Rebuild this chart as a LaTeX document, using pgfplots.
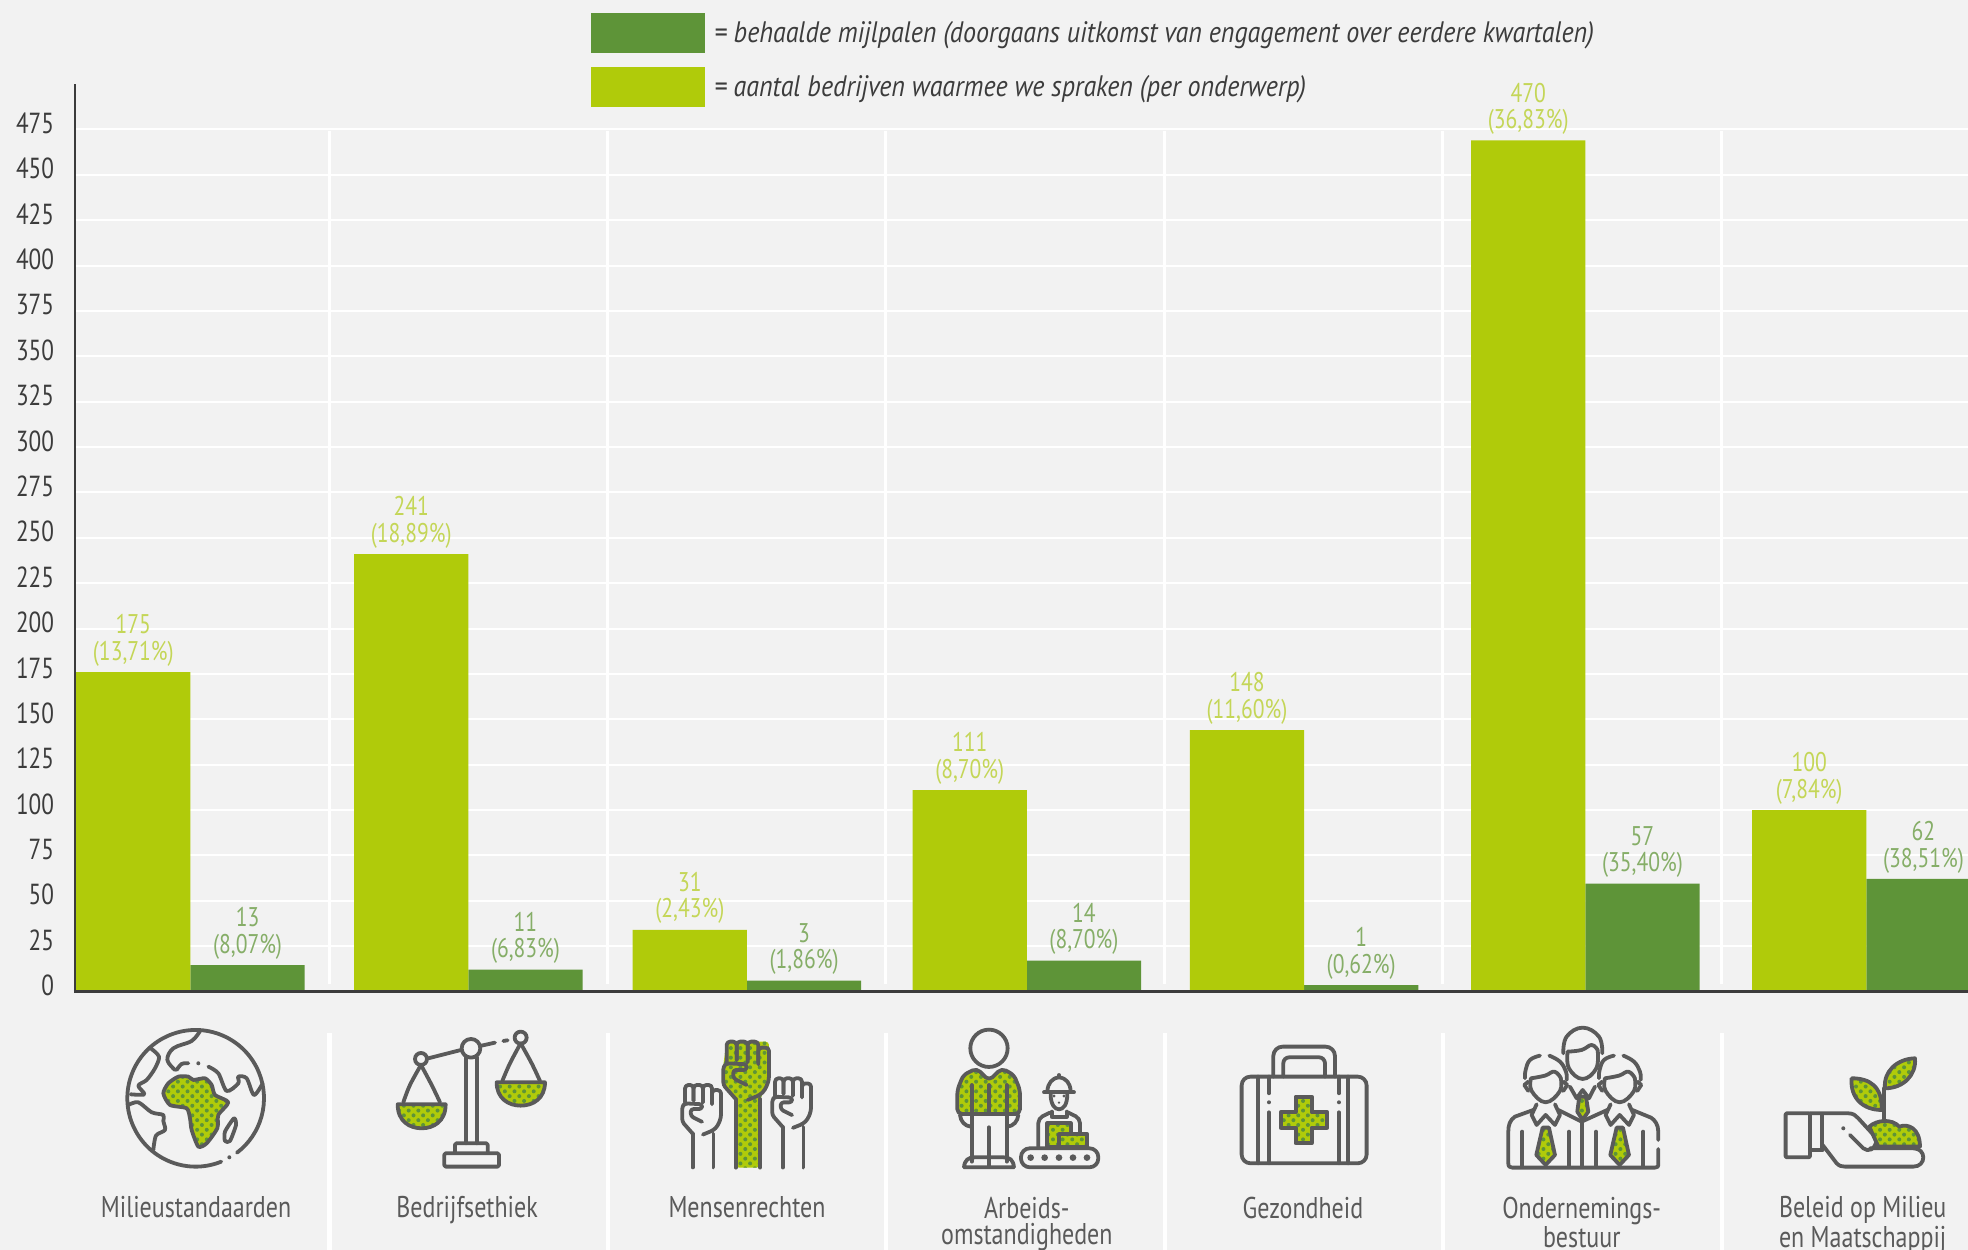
\documentclass[border=0pt]{standalone}
\usepackage{fontspec}
\setmainfont[FakeStretch=0.8]{PT Sans}
\newfontface\legfont[FakeStretch=0.88]{PT Sans Italic}
\usepackage{pgfplots}
\pgfplotsset{compat=1.18}
\usetikzlibrary{patterns.meta}
\definecolor{bg}{HTML}{F2F2F2}
\definecolor{lime}{HTML}{B0CB0A}
\definecolor{dk}{HTML}{5E9438}
\definecolor{limetxt}{HTML}{C4D657}
\definecolor{dktxt}{HTML}{86AE68}
\definecolor{axisc}{HTML}{3C3C3C}
\definecolor{icg}{HTML}{5A5A5A}
\tikzset{
  ic/.style={line width=1.9bp,draw=icg,line cap=round,line join=round},
  dotf/.style={preaction={fill=lime},preaction={pattern={Dots[angle=45,distance=3.4bp,radius=1bp]},pattern color=dk}},
  icon/.style={shift={(#1)},x=0.5bp/3,y=-0.5bp/3}
}
\newcommand{\fist}[1]{%
  \draw[ic,rounded corners=1.7bp] (185,112)--(185,50)--(215,50)--(215,105);
  \draw[ic,rounded corners=1.7bp] (215,105)--(215,50)--(248,50)--(248,105);
  \draw[ic,rounded corners=1.7bp] (248,112)--(248,50)--(280,50)--(280,118);
  \draw[ic,rounded corners=1.7bp] (280,112)--(280,68)--(312,68)--(312,165)--(300,195)--(285,210)--(248,225);
  \draw[ic,rounded corners=1.4bp] (212,222)--(175,180)--(175,125)--(185,115)--(245,118)--(245,135)--(205,135)--(205,160)--(245,180);
  \draw[ic] (212,222)--(212,#1) (285,222)--(285,#1);
}
\newcommand{\person}{%
  \draw[ic] plot[smooth,tension=.7] coordinates {(135,122)(105,135)(92,165)(90,190)};
  \draw[ic] plot[smooth,tension=.7] coordinates {(163,122)(195,140)(213,170)(215,195)};
  \draw[ic] plot[smooth,tension=.7] coordinates {(108,190)(150,182)(178,170)(197,188)};
  \draw[ic] plot[smooth,tension=.7] coordinates {(108,190)(110,228)(152,262)(195,228)(197,188)};
  \draw[ic] (100,200)--(88,210)--(100,228) (205,200)--(217,210)--(205,228);
  \draw[ic] (125,268)--(110,300)--(125,330)--(152,300)--(180,330)--(195,300)--(180,268);
  \path[ic,dotf] (143,338)--(162,338)--(180,420)--(152,450)--(124,420)--cycle;
}
\begin{document}
\begin{tikzpicture}
\useasboundingbox (0,0) rectangle (984bp,625bp);
\fill[bg] (0,0) rectangle (984bp,625bp);
\begin{scope}[shift={(0,625bp)},x=0.5bp,y=-0.5bp]
\foreach \xx in {329.5,608,886,1165,1443,1722}{
  \draw[white,line width=1.5bp] (\xx,131)--(\xx,984);
  \draw[white,line width=2.4bp] (\xx,1033)--(\xx,1250);
}
\end{scope}
\begin{axis}[
  at={(37.5bp,129.25bp)},anchor=south west,
  scale only axis,width=946.5bp,height=453.7bp,
  xmin=-0.4133,xmax=6.364,ymin=0,ymax=500,
  axis x line=bottom,axis y line=left,
  axis line style={-,axisc,line width=1.3bp},
  ytick={0,25,...,475},
  xtick={0.02,0.9906,1.9925,2.9945,3.983,4.981,5.987},
  xticklabels={{Milieustandaarden},{Bedrijfsethiek},{Mensenrechten},{Arbeids-\\omstandigheden},{Gezondheid},{Ondernemings-\\bestuur},{Beleid op Milieu\\en Maatschappij}},
  x tick label style={align=center,text=icg,inner sep=0pt,yshift=-102.4bp,font=\fontsize{15bp}{13.2bp}\selectfont},
  y tick label style={text=axisc,font=\fontsize{14.5bp}{14bp}\selectfont,xshift=-7bp,yshift=3bp},
  /pgf/number format/assume math mode=true,
  major tick length=0pt,
  ymajorgrids,grid style={white,line width=1bp},
  ybar,bar width=0.409,
  nodes near coords={\pgfplotspointmeta},
  point meta=explicit symbolic,
  every node near coord/.append style={align=center,font=\fontsize{13.5bp}{13.2bp}\selectfont,inner sep=2.8bp},
  legend style={at={(0.2725,1.0788)},anchor=north west,draw=none,fill=none,
    font=\legfont\fontsize{14.8bp}{14bp}\selectfont,text=axisc,row sep=7bp,inner sep=0pt,
    nodes={inner xsep=4.5bp,inner ysep=1bp}},
  legend cell align=left,
  legend image code/.code={\fill[#1] (0bp,-10bp) rectangle (57bp,10bp);},
]
\addplot[fill=dk,draw=none,bar shift=0.2045,every node near coord/.append style={text=dktxt}] coordinates {
(0,14.5)[13\\(8,07\%)]
(0.995,12)[11\\(6,83\%)]
(1.9925,6)[3\\(1,86\%)]
(2.9945,17)[14\\(8,70\%)]
(3.987,3.5)[1\\(0,62\%)]
(4.994,59.5)[57\\(35,40\%)]
(6,62)[62\\(38,51\%)]
};
\addlegendentry{= behaalde mijlpalen (doorgaans uitkomst van engagement over eerdere kwartalen)}
\addplot[fill=lime,draw=none,bar shift=-0.2045,every node near coord/.append style={text=limetxt}] coordinates {
(0,176)[175\\(13,71\%)]
(0.995,241)[241\\(18,89\%)]
(1.9925,34)[31\\(2,43\%)]
(2.9945,111)[111\\(8,70\%)]
(3.987,144)[148\\(11,60\%)]
(4.994,469)[470\\(36,83\%)]
(6,100)[100\\(7,84\%)]
};
\addlegendentry{= aantal bedrijven waarmee we spraken (per onderwerp)}
\end{axis}
\begin{scope}[shift={(0,625bp)},x=0.5bp,y=-0.5bp]
\draw[axisc,line width=1.3bp] (74,991.5)--(1968,991.5);
% globe
\begin{scope}[icon={110,1015}]
\draw[ic] (257,250)+(68:205) arc[start angle=68,end angle=412.8,radius=205];
\fill[icg] (358,427) circle (6) (265,145) circle (6);
\draw[ic] plot[smooth,tension=.6] coordinates {(270,48)(245,78)(190,100)(172,135)(195,165)};
\draw[ic] plot[smooth,tension=.5] coordinates {(122,100)(147,125)(135,160)(110,195)(85,212)(103,238)(62,238)};
\draw[ic] plot[smooth,tension=.5] coordinates {(55,270)(85,262)(125,292)(160,300)(160,318)(165,345)(138,362)(130,405)};
\draw[ic] plot[smooth,tension=.6] coordinates {(200,165)(215,147)(235,145)};
\draw[ic] plot[smooth,tension=.5] coordinates {(295,155)(325,175)(350,228)(385,205)(385,185)(410,190)(432,240)(458,205)};
\draw[ic,dotf] plot[smooth cycle,tension=.4] coordinates {(160,235)(175,205)(205,185)(235,185)(250,195)(285,190)(305,210)(315,240)(355,262)(325,300)(322,340)(290,385)(265,395)(245,345)(240,310)(230,280)(180,270)};
\draw[ic] plot[smooth cycle,tension=.4] coordinates {(372,310)(378,330)(360,378)(345,378)(345,350)};
\end{scope}
% scales
\begin{scope}[icon={385,1015}]
\draw[ic] (130,130)--(228,105) (290,92)--(330,83) (355,78)--(368,76);
\draw[ic] (258,100) circle (28) (108,132) circle (18) (407,68) circle (18);
\draw[ic] (243,128)--(243,385) (275,128)--(275,385);
\draw[ic,rounded corners=.7bp] (210,412)--(210,385)--(308,385)--(308,412);
\draw[ic,rounded corners=.7bp] (178,415) rectangle (342,455);
\draw[ic] plot[smooth,tension=.6] coordinates {(108,150)(75,210)(55,262)};
\draw[ic] plot[smooth,tension=.6] coordinates {(108,150)(140,210)(165,262)};
\draw[ic] plot[smooth,tension=.6] coordinates {(407,85)(375,145)(352,198)};
\draw[ic] plot[smooth,tension=.6] coordinates {(407,85)(440,145)(465,198)};
\draw[ic,dotf] (38,268)--(182,268) .. controls (182,320) and (145,340) .. (110,340) .. controls (75,340) and (38,320) .. (38,268) -- cycle;
\draw[ic,dotf] (335,202)--(480,202) .. controls (480,250) and (445,272) .. (407,272) .. controls (370,272) and (335,250) .. (335,202) -- cycle;
\end{scope}
% fists
\begin{scope}[icon={665,1025}]
\path[dotf,rounded corners=1.7bp] (185,50)--(312,50)--(312,170)--(285,222)--(285,428)--(212,428)--(212,222)--(175,180)--(175,120)--cycle;
\fist{428}
\begin{scope}[shift={(-97,137.5)},scale=.85]\fist{341}\end{scope}
\begin{scope}[shift={(173,117.5)},scale=.85]\fist{365}\end{scope}
\end{scope}
% workers
\begin{scope}[icon={940,1020}]
\draw[ic] (147,85) circle (56);
\draw[ic,dotf,rounded corners=2.4bp] (52,282)--(52,210)--(70,165)--(110,145)--(147,182)--(185,145)--(222,165)--(240,210)--(240,282)--cycle;
\draw[ic] (95,195)--(95,425) (200,195)--(200,425) (147,195)--(147,280) (147,322)--(147,440);
\draw[ic] (60,285) .. controls (62,305) and (75,318) .. (92,320);
\draw[ic] (235,285) .. controls (233,305) and (220,318) .. (203,320);
\draw[ic] (72,442)--(222,442) (72,442) .. controls (74,420) and (85,412) .. (105,412) -- (190,412) .. controls (210,412) and (220,420) .. (222,442);
\draw[ic] (322,212) .. controls (325,190) and (335,175) .. (357,172) .. controls (380,175) and (390,190) .. (392,212);
\draw[ic] (312,217)--(402,217) (357,165)--(357,172);
\draw[ic] (332,222) .. controls (332,255) and (345,268) .. (357,268) .. controls (370,268) and (382,255) .. (382,222);
\fill[icg] (342,228) circle (5) (372,228) circle (5) (357,248) circle (4);
\draw[ic,rounded corners=2.4bp] (295,380)--(295,295)--(330,278) (385,278)--(420,295)--(420,340);
\draw[ic] (335,275)--(335,290)--(380,290)--(380,275);
\draw[ic,dotf] (322,310) rectangle (392,380);
\draw[ic,dotf] (358,343) rectangle (442,380);
\draw[ic,rounded corners=4.4bp] (243,385) rectangle (475,442);
\fill[icg] (272,413) circle (10) (314,413) circle (10) (357,413) circle (10) (399,413) circle (10) (441,413) circle (10);
\end{scope}
% kit
\begin{scope}[icon={1215,1025}]
\draw[ic,rounded corners=4.4bp] (80,155) rectangle (455,415);
\draw[ic,rounded corners=4.7bp] (175,155)--(175,65)--(360,65)--(360,155);
\draw[ic,rounded corners=3bp] (205,155)--(205,97)--(330,97)--(330,155);
\draw[ic] (130,155)--(130,415) (400,155)--(400,415);
\draw[ic] (162,155)--(162,205) (162,262)--(162,415) (372,155)--(372,205) (372,262)--(372,415);
\fill[icg] (162,232) circle (6) (372,232) circle (6);
\draw[ic,dotf] (242,215)--(290,215)--(290,262)--(337,262)--(337,308)--(290,308)--(290,355)--(242,355)--(242,308)--(197,308)--(197,262)--(242,262)--cycle;
\end{scope}
% people
\begin{scope}[icon={1495,1015}]
\draw[ic] plot[smooth,tension=.7] coordinates {(205,115)(215,65)(263,38)(312,65)(322,115)};
\draw[ic] plot[smooth,tension=.7] coordinates {(218,110)(260,105)(290,90)(308,105)};
\draw[ic] plot[smooth,tension=.7] coordinates {(218,110)(222,160)(263,192)(304,160)(308,105)};
\draw[ic] (225,215)--(245,250)--(263,225)--(282,250)--(300,215);
\path[ic,dotf] (253,245)--(273,245)--(280,290)--(263,315)--(247,290)--cycle;
\person
\begin{scope}[shift={(222,0)}]\person\end{scope}
\draw[ic] (115,285)--(60,305) .. controls (45,315) and (40,330) .. (40,350) -- (40,445) .. controls (40,455) and (45,458) .. (52,458) -- (480,458) .. controls (488,458) and (490,455) .. (490,445) -- (490,402);
\draw[ic] (490,375)--(490,350) .. controls (490,330) and (480,315) .. (468,308) -- (412,285);
\draw[ic] (190,285)--(260,320)--(337,285);
\draw[ic] (82,350)--(82,455) (222,350)--(222,455) (260,320)--(260,455) (303,350)--(303,455) (445,350)--(445,455);
\end{scope}
% plant
\begin{scope}[icon={1770,1045}]
\draw[ic,rounded corners=.5bp] (47,205) rectangle (120,337);
\draw[ic] (120,205)--(235,205) .. controls (250,205) and (258,212) .. (265,220) -- (320,280);
\draw[ic] (155,210)--(155,315) (122,315)--(158,315);
\draw[ic] (240,270)--(280,310) .. controls (295,322) and (315,315) .. (320,285);
\draw[ic] (158,300)--(200,355) .. controls (208,363) and (215,365) .. (225,365) -- (430,365) .. controls (470,365) and (470,310) .. (430,310) -- (300,310);
\fill[icg] (220,250) circle (6);
\draw[ic,dotf] (298,245) .. controls (320,225) and (365,220) .. (388,245) .. controls (415,235) and (450,250) .. (450,305) -- (325,305) -- cycle;
\draw[ic] (342,225)--(342,130)--(385,85);
\draw[ic,dotf] (245,100) .. controls (300,100) and (338,125) .. (335,195) .. controls (280,195) and (240,160) .. (245,100) -- cycle;
\draw[ic,dotf] (345,130) .. controls (340,80) and (380,42) .. (435,40) .. controls (440,90) and (400,130) .. (345,130) -- cycle;
\end{scope}
\end{scope}
\end{tikzpicture}
\end{document}
